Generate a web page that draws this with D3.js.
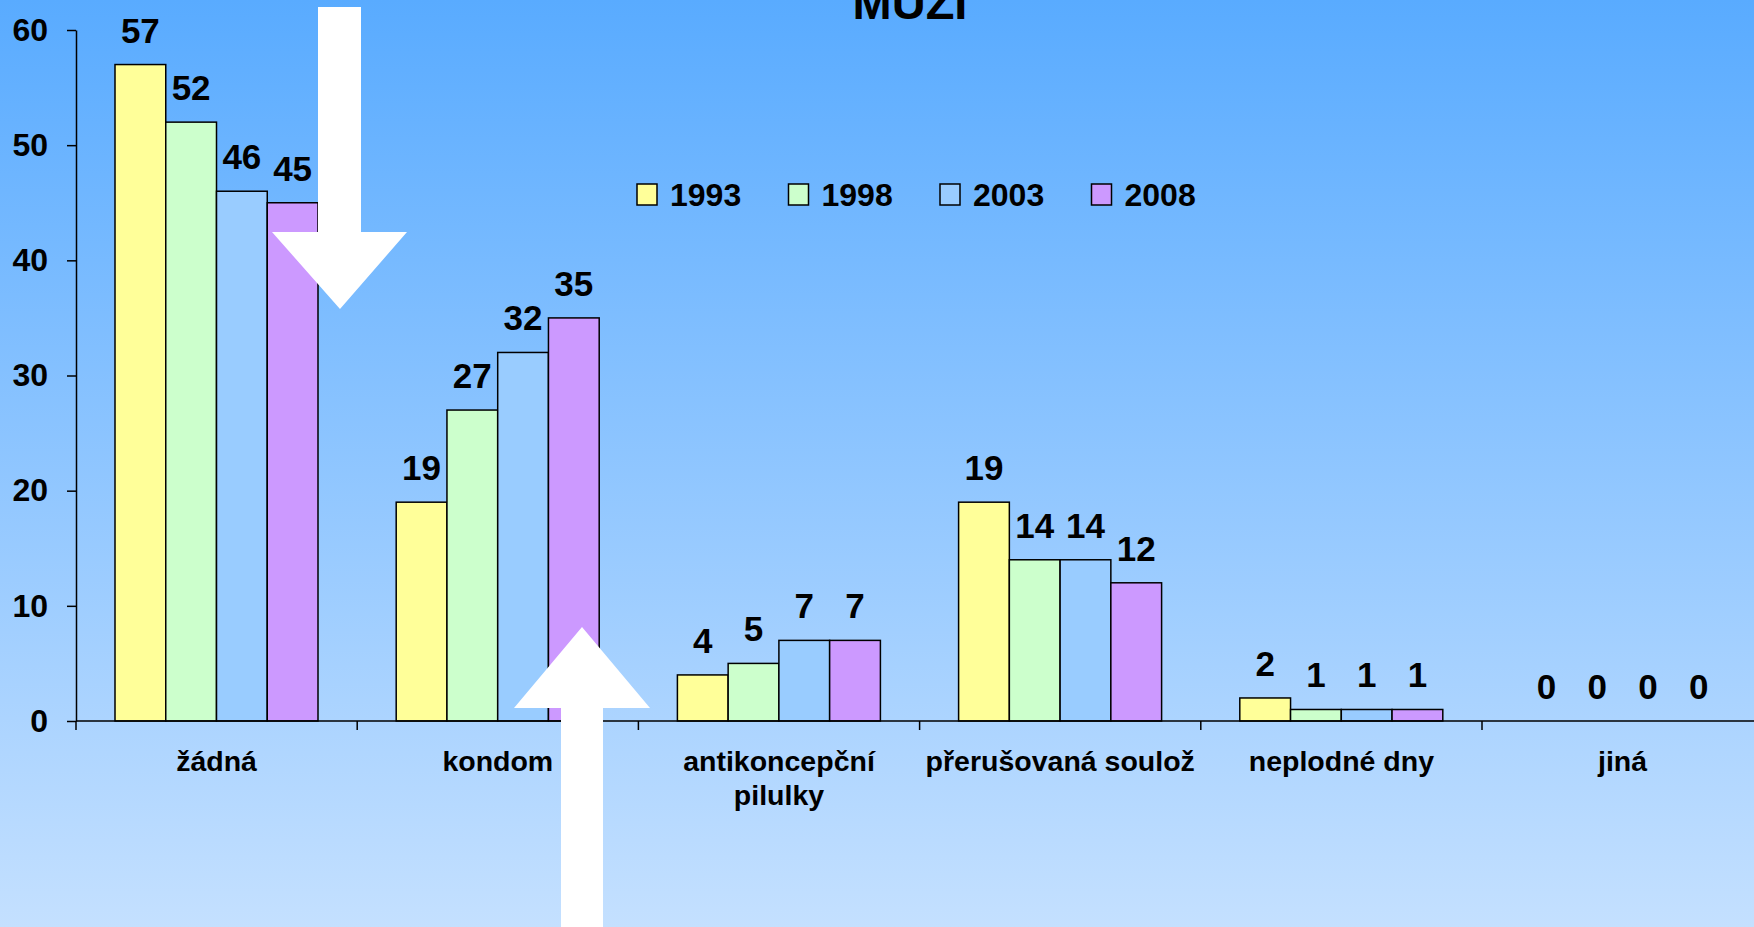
<!DOCTYPE html>
<html>
<head>
<meta charset="utf-8">
<script src="https://cdn.jsdelivr.net/npm/d3@7"></script>
<style>
  html, body { margin: 0; padding: 0; overflow: hidden; }
  svg { display: block; font-family: "Liberation Sans", Arial, sans-serif; font-weight: bold; }
</style>
</head>
<body>
<svg id="chart" width="1754" height="927"></svg>
<script>
const categories = ["žádná", "kondom", "antikoncepční pilulky", "přerušovaná soulož", "neplodné dny", "jiná"];
const categoryLines = [["žádná"], ["kondom"], ["antikoncepční", "pilulky"], ["přerušovaná soulož"], ["neplodné dny"], ["jiná"]];
const years = ["1993", "1998", "2003", "2008"];
const values1993 = [57, 19, 4, 19, 2, 0];
const values1998 = [52, 27, 5, 14, 1, 0];
const values2003 = [46, 32, 7, 14, 1, 0];
const values2008 = [45, 35, 7, 12, 1, 0];
const yTicks = [0, 10, 20, 30, 40, 50, 60];
const title = "MUŽI";
const colors = ["#ffff99", "#ccffcc", "#99ccff", "#cc99ff"];

const series = [values1993, values1998, values2003, values2008];

const svg = d3.select("#chart");
const W = 1754, H = 927;

// background gradient
const defs = svg.append("defs");
const grad = defs.append("linearGradient").attr("id", "bg").attr("x1", 0).attr("y1", 0).attr("x2", 0).attr("y2", 1);
grad.append("stop").attr("offset", "0%").attr("stop-color", "#59abff");
grad.append("stop").attr("offset", "100%").attr("stop-color", "#c4e0ff");
svg.append("rect").attr("width", W).attr("height", H).attr("fill", "url(#bg)");

const left = 76, bandW = 281.2;
const x0 = d3.scaleBand().domain(categories).range([left, left + bandW * categories.length]).padding(0);
const x1 = d3.scaleBand().domain(years).range([39, 242]).padding(0);
const y = d3.scaleLinear().domain([0, 60]).range([721, 30]);

// title (cut off at the top edge, as in the reference)
svg.append("text").attr("x", 910).attr("y", 19).attr("text-anchor", "middle")
  .attr("font-size", 47).attr("fill", "#000").text(title);

// bars
const groups = svg.append("g").selectAll("g").data(categories).join("g")
  .attr("transform", d => `translate(${x0(d)},0)`);

groups.each(function(cat, ci) {
  const g = d3.select(this);
  years.forEach((yr, si) => {
    const v = series[si][ci];
    if (v > 0) {
      g.append("rect")
        .attr("x", x1(yr)).attr("y", y(v))
        .attr("width", x1.bandwidth()).attr("height", y(0) - y(v))
        .attr("fill", colors[si]).attr("stroke", "#000").attr("stroke-width", 1.5);
    }
    g.append("text")
      .attr("x", x1(yr) + x1.bandwidth() / 2)
      .attr("y", y(v) - 22)
      .attr("text-anchor", "middle")
      .attr("font-size", 35).attr("fill", "#000")
      .text(v);
  });
});

// y axis
const yAxis = d3.axisLeft(y).tickValues(yTicks).tickSize(9).tickPadding(19).tickSizeOuter(0);
const yg = svg.append("g").attr("transform", `translate(${left},0)`).call(yAxis);
yg.select(".domain").attr("stroke", "#000").attr("stroke-width", 1.5);
yg.selectAll(".tick line").attr("stroke", "#000").attr("stroke-width", 1.5);
yg.selectAll(".tick text").attr("font-size", 32).attr("font-weight", "bold")
  .attr("font-family", "Liberation Sans, Arial, sans-serif").attr("fill", "#000");

// x axis
const xg = svg.append("g");
xg.append("line").attr("x1", left).attr("x2", W).attr("y1", y(0)).attr("y2", y(0))
  .attr("stroke", "#000").attr("stroke-width", 1.5);
xg.selectAll("line.cat").data(categories).join("line").attr("class", "cat")
  .attr("x1", d => x0(d)).attr("x2", d => x0(d))
  .attr("y1", y(0)).attr("y2", y(0) + 9)
  .attr("stroke", "#000").attr("stroke-width", 1.5);
xg.selectAll("text.cat").data(categories).join("text").attr("class", "cat")
  .attr("x", d => x0(d) + x0.bandwidth() / 2)
  .attr("y", 771)
  .attr("text-anchor", "middle").attr("font-size", 28.5).attr("fill", "#000")
  .each(function(d, i) {
    const t = d3.select(this);
    categoryLines[i].forEach((ln, li) => {
      t.append("tspan").attr("x", x0(d) + x0.bandwidth() / 2).attr("dy", li === 0 ? 0 : 34).text(ln);
    });
  });

// legend
const lg = svg.append("g");
years.forEach((yr, i) => {
  const lx = 637 + i * 151.5;
  lg.append("rect").attr("x", lx).attr("y", 184).attr("width", 20).attr("height", 21)
    .attr("fill", colors[i]).attr("stroke", "#000").attr("stroke-width", 1.5);
  lg.append("text").attr("x", lx + 33).attr("y", 206).attr("font-size", 32).attr("fill", "#000").text(yr);
});

// arrows
const arrowLine = d3.line();
svg.append("path")
  .attr("d", arrowLine([[318, 7], [361, 7], [361, 232], [407, 232], [340, 309], [272, 232], [318, 232]]) + "Z")
  .attr("fill", "#fff");
svg.append("path")
  .attr("d", arrowLine([[561, 927], [603, 927], [603, 708], [650, 708], [582, 627], [514, 708], [561, 708]]) + "Z")
  .attr("fill", "#fff");
</script>
</body>
</html>
